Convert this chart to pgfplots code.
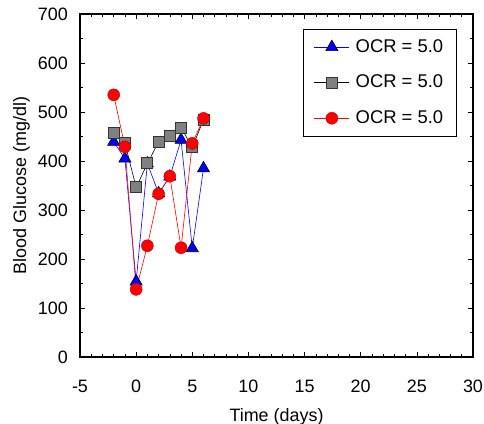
\documentclass[border=0pt]{standalone}
\usepackage{pgfplots}
\pgfplotsset{compat=1.18}
\usepackage{fontspec}
\setmainfont{Liberation Sans}

\begin{document}
\fontsize{18}{21}\selectfont
\begin{tikzpicture}
\begin{axis}[
    scale only axis,
    width=393bp, height=343bp,
    xmin=-5, xmax=30,
    ymin=0, ymax=700,
    xtick={-5,0,...,30},
    ytick={0,100,...,700},
    minor x tick num=4,
    minor y tick num=1,
    tick align=inside,
    major tick length=5bp,
    minor tick length=3bp,
    axis line style={line width=1.2pt},
    tick style={black, line width=0.6pt},
    xticklabel style={yshift=-17bp},
    yticklabel style={xshift=-6bp},
    /pgf/number format/assume math mode=true,
    xlabel={Time (days)},
    ylabel={Blood Glucose (mg/dl)},
    xlabel style={yshift=-3bp},
    ylabel style={yshift=-4bp},
    legend style={at={(0.567,0.956)}, anchor=north west, draw=black,
        line width=0.5pt, inner xsep=11bp, inner ysep=8bp, row sep=16bp,
        font=\fontsize{18.5}{21}\selectfont,
        nodes={inner sep=2bp}},
    legend cell align=left,
    legend image code/.code={
        \draw[mark repeat=2,mark phase=2] plot coordinates {(0bp,0bp)(17.5bp,0bp)(35bp,0bp)};
        \path (39bp,0bp);},
]
\addplot[blue, line width=0.6pt, mark=triangle*, mark size=7bp,
    mark options={fill=blue, draw=black, line width=0.6pt}]
    coordinates {
    (-2,439)(-1,405)(0,154)(1,395)(2,334)(3,368)(4,443)(5,222)(6,385)
    };
\addlegendentry{OCR = 5.0}
\addplot[black, line width=0.6pt, mark=square*, mark size=5.5bp,
    mark options={fill=gray, draw=black!80, line width=1pt}]
    coordinates {
    (-2,458)(-1,437)(0,346)(1,395)(2,439)(3,451)(4,468)(5,428)(6,484)
    };
\addlegendentry{OCR = 5.0}
\addplot[red, line width=0.6pt, mark=*, mark size=6bp,
    mark options={fill=red, draw=red!70!black, line width=0.4pt}]
    coordinates {
    (-2,535)(-1,429)(0,138)(1,227)(2,333)(3,369)(4,223)(5,436)(6,487)
    };
\addlegendentry{OCR = 5.0}
\end{axis}
\pgfresetboundingbox
\path (current axis.south west) ++(-80bp,-67bp) coordinate (bbA)
      (current axis.south west) ++(404bp,357bp) coordinate (bbB);
\path[use as bounding box] (bbA) rectangle (bbB);
\end{tikzpicture}
\end{document}
